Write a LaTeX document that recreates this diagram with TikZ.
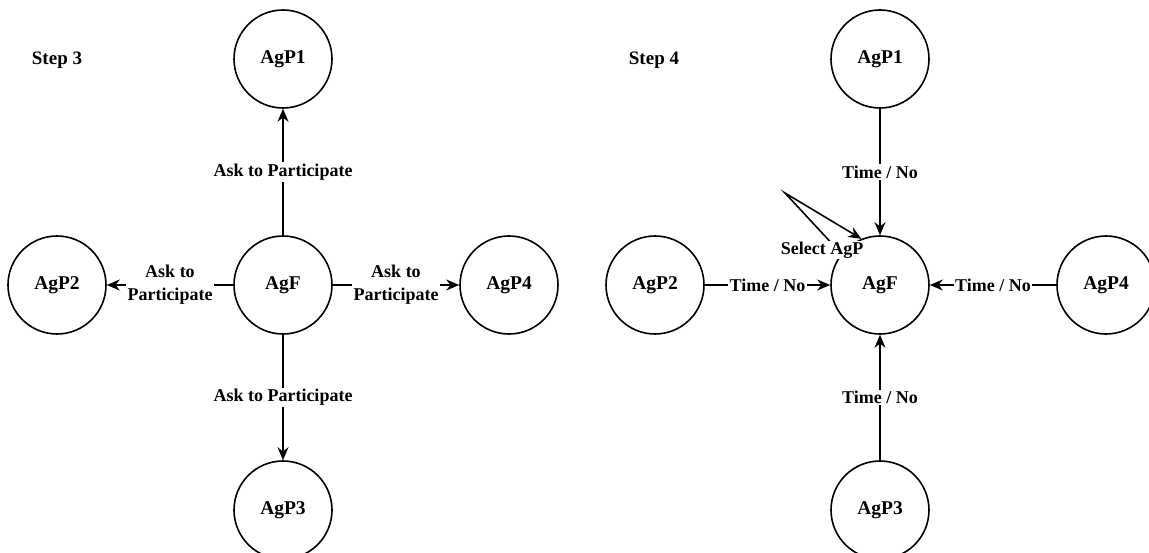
\documentclass[tikz,border=0pt]{standalone}
\usepackage{fontspec}
\setmainfont{Liberation Serif}
\usetikzlibrary{arrows.meta}
\begin{document}
\begin{tikzpicture}[x=1pt,y=-1pt,
  agent/.style={circle,draw,line width=1.6pt,minimum size=98pt,inner sep=0pt,font=\fontsize{19.5}{22}\selectfont\bfseries},
  link/.style={line width=1.6pt,-{Stealth[length=13pt,width=11pt]}},
  tag/.style={fill=white,inner sep=1.5pt,align=center,font=\fontsize{18}{23}\selectfont\bfseries},
  steptitle/.style={font=\fontsize{19}{21}\selectfont\bfseries}]
\useasboundingbox (0,0) rectangle (1149,553);
% Step 3: the facilitator asks every participant
\node[steptitle] (s3) at (57,60) {Step 3};
\node[agent] (f3) at (283,285) {AgF};
\node[agent] (p31) at (283,59) {AgP1};
\node[agent] (p32) at (57,285) {AgP2};
\node[agent] (p34) at (509,285) {AgP4};
\node[agent] (p33) at (283,510) {AgP3};
\draw[link] (f3) -- node[tag] {Ask to Participate} (p31);
\draw[link] (f3) -- node[tag] {Ask to Participate} (p33);
\draw[link] (f3) -- node[tag] {Ask to\\Participate} (p32);
\draw[link] (f3) -- node[tag] {Ask to\\Participate} (p34);
% Step 4: participants answer, facilitator selects
\node[steptitle] (s4) at (654,60) {Step 4};
\node[agent] (f4) at (880,285) {AgF};
\node[agent] (p41) at (880,59) {AgP1};
\node[agent] (p42) at (655,285) {AgP2};
\node[agent] (p44) at (1106,285) {AgP4};
\node[agent] (p43) at (880,510) {AgP3};
\draw[link] (p41) -- node[tag] {Time / No} (f4);
\draw[link] (p43) -- node[tag] {Time / No} (f4);
\draw[link] (p42) -- node[tag] {Time / No} (f4);
\draw[link] (p44) -- node[tag] {Time / No} (f4);
\coordinate (bend) at (785,193);
\draw[link] (f4.141) -- (bend) -- (f4.112);
\node[tag,inner sep=1pt] (sel) at (822,250) {Select AgP};
\end{tikzpicture}
\end{document}
